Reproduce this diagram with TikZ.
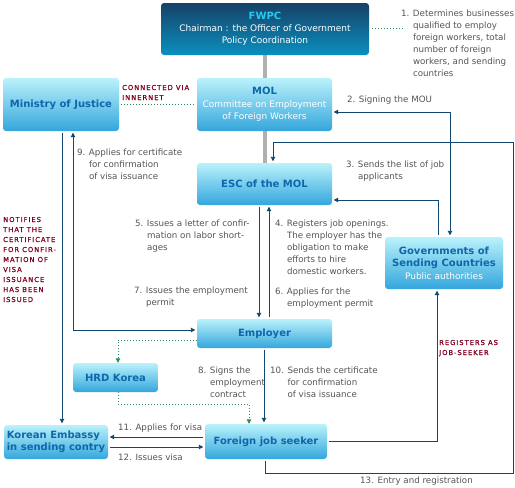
\documentclass[tikz,border=0pt]{standalone}
\usepackage{fontspec}
\setmainfont{DejaVu Sans}
\newfontfamily\redfont[LetterSpace=14,FakeBold=0.6]{DejaVu Sans}
\usetikzlibrary{arrows.meta,backgrounds}
\definecolor{lineblue}{RGB}{16,72,112}
\definecolor{boxtop}{RGB}{186,242,251}
\definecolor{boxbot}{RGB}{52,166,220}
\definecolor{boxtext}{RGB}{14,102,172}
\definecolor{darktop}{RGB}{22,66,102}
\definecolor{darkbot}{RGB}{10,144,192}
\definecolor{fwpccyan}{RGB}{40,200,240}
\definecolor{labgray}{RGB}{85,85,85}
\definecolor{notered}{RGB}{128,0,32}
\definecolor{dotgreen}{RGB}{40,140,90}
\definecolor{bargray}{RGB}{176,176,176}
\newcommand\numlab[2]{\begin{tabular}[t]{@{}l@{\hspace{3.5pt}}l@{}}#1&\begin{tabular}[t]{@{}l@{}}#2\end{tabular}\end{tabular}}
\newcommand\stk[1]{\begin{tabular}[t]{@{}l@{}}#1\end{tabular}}
\tikzset{
  lbox/.style={rounded corners=3pt, top color=boxtop, bottom color=boxbot, inner sep=0pt, align=center, text=boxtext, font=\fontsize{10}{12.5}\selectfont\bfseries},
  dbox/.style={rounded corners=3pt, top color=darktop, bottom color=darkbot, inner sep=0pt, align=center, font=\fontsize{9}{12}\selectfont},
  conn/.style={draw=lineblue, line width=0.9pt, shorten >=1.5pt, shorten <=1.5pt},
  dotline/.style={draw=dotgreen, line width=0.9pt, dash pattern=on 1pt off 2pt},
  lab/.style={anchor=base west, inner sep=0pt, text=labgray, font=\fontsize{8.7}{12}\selectfont},
  redlab/.style={anchor=base west, inner sep=0pt, text=notered, font=\redfont\fontsize{6.8}{10}\selectfont},
}
\begin{document}
\begin{tikzpicture}[x=1pt,y=-1pt,>={Triangle[length=4.5pt,width=4.5pt]}]
\useasboundingbox (0,0) rectangle (515,488);

% boxes
\node[dbox, minimum width=208pt, minimum height=52pt] (fwpc) at (265,29)
  {\textcolor{fwpccyan}{\fontsize{10}{12}\selectfont\bfseries FWPC}\\\textcolor{white}{Chairman : the Officer of Government}\\\textcolor{white}{Policy Coordination}};
\node[lbox, minimum width=135pt, minimum height=53pt] (mol) at (264.5,104.5)
  {MOL\\\textcolor{white}{\mdseries\fontsize{9}{12}\selectfont Committee on Employment}\\\textcolor{white}{\mdseries\fontsize{9}{12}\selectfont of Foreign Workers}};
\node[lbox, minimum width=116pt, minimum height=53pt] (moj) at (61,104.5) {Ministry of Justice};
\node[lbox, minimum width=135pt, minimum height=42pt] (esc) at (264.5,184) {ESC of the MOL};
\node[lbox, minimum width=135pt, minimum height=29pt] (emp) at (264.5,333.5) {Employer};
\node[lbox, minimum width=85pt, minimum height=29pt] (hrd) at (115.5,377.5) {HRD Korea};
\node[lbox, minimum width=104pt, minimum height=34pt, align=left] (emb) at (56,442) {Korean Embassy\\in sending contry};
\node[lbox, minimum width=122pt, minimum height=35pt] (fjs) at (266,441.5) {Foreign job seeker};
\node[lbox, minimum width=118pt, minimum height=52pt] (gov) at (444,263)
  {Governments of\\Sending Countries\\\textcolor{white}{\mdseries\fontsize{9}{12}\selectfont Public authorities}};

\begin{scope}[on background layer]
  \fill[white] (0,0) rectangle (515,488);
  \draw[bargray, line width=3.5pt] (fwpc.south) -- (fwpc.south |- esc.north);
\end{scope}

% coordinates for bends
\coordinate (c2) at (450,112);
\coordinate (c3) at (438,200);
\coordinate (c13a) at (265,473);
\coordinate (c13b) at (513,473);
\coordinate (c13c) at (513,142);
\coordinate (c13d) at (273,142);
\coordinate (c9) at (73,330);
\coordinate (cn) at (62,0);
\coordinate (c57) at (259,0);
\coordinate (c46) at (269,0);
\coordinate (c810) at (264,0);
\coordinate (e11) at (0,437);
\coordinate (e12) at (0,447);
\coordinate (r1) at (437,441);
\coordinate (g0) at (405,28);
\coordinate (g1) at (118,340);
\coordinate (g2) at (118,404);
\coordinate (g3) at (249,404);

% connectors
\draw[conn,<->] (gov.north -| c2) -- (c2) -- (mol.east |- c2);
\draw[conn,->] (gov.north -| c3) -- (c3) -- (esc.east |- c3);
\draw[conn,->] (fjs.south -| c13a) -- (c13a) -- (c13b) -- (c13c) -- (c13d) -- (esc.north -| c13d);
\draw[conn,<->] (moj.south -| c9) -- (c9) -- (emp.west |- c9);
\draw[conn,->] (moj.south -| cn) -- (emb.north -| cn);
\draw[conn,->] (esc.south -| c57) -- (emp.north -| c57);
\draw[conn,->] (emp.north -| c46) -- (esc.south -| c46);
\draw[conn,->] (emp.south -| c810) -- (fjs.north -| c810);
\draw[conn,->] (fjs.west |- e11) -- (emb.east |- e11);
\draw[conn,->] (emb.east |- e12) -- (fjs.west |- e12);
\draw[conn,->] (fjs.east |- r1) -- (r1) -- (gov.south -| r1);

% dotted
\draw[dotline, shorten <=3pt] (fwpc.east |- g0) -- (g0);
\draw[dotline, shorten <=2pt, shorten >=2pt] (moj.east) -- (mol.west);
\draw[dotline,->] (emp.west |- g1) -- (g1) -- (hrd.north -| g1);
\draw[dotline,->] (hrd.south -| g2) -- (g2) -- (g3) -- (fjs.north -| g3);

% labels
\node[lab] (l1) at (401,16) {\numlab{1.}{Determines businesses\\qualified to employ\\foreign workers, total\\number of foreign\\workers, and sending\\countries}};
\node[lab] (l2) at (347,102) {\numlab{2.}{Signing the MOU}};
\node[lab] (l3) at (346,167) {\numlab{3.}{Sends the list of job\\applicants}};
\node[lab] (l4) at (275,226) {\numlab{4.}{Registers job openings.\\The employer has the\\obligation to make\\efforts to hire\\domestic workers.}};
\node[lab] (l6) at (275,294) {\numlab{6.}{Applies for the\\employment permit}};
\node[lab] (l5) at (135,226) {\numlab{5.}{Issues a letter of confir-\\mation on labor short-\\ages}};
\node[lab] (l7) at (134,293) {\numlab{7.}{Issues the employment\\permit}};
\node[lab] (l9) at (77,155) {\numlab{9.}{Applies for certificate\\for confirmation\\of visa issuance}};
\node[lab] (l8) at (198,373) {\numlab{8.}{Signs the\\employment\\contract}};
\node[lab] (l10) at (270,373) {\numlab{10.}{Sends the certificate\\for confirmation\\of visa issuance}};
\node[lab] (l11) at (118,430) {\numlab{11.}{Applies for visa}};
\node[lab] (l12) at (118,460) {\numlab{12.}{Issues visa}};
\node[lab] (l13) at (360,483) {\numlab{13.}{Entry and registration}};

\node[redlab] (rc) at (122,90) {\stk{CONNECTED VIA\\INNERNET}};
\node[redlab] (rn) at (3,222) {\stk{NOTIFIES\\THAT THE\\CERTIFICATE\\FOR CONFIR-\\MATION OF\\VISA\\ISSUANCE\\HAS BEEN\\ISSUED}};
\node[redlab] (rr) at (439,345) {\stk{REGISTERS AS\\JOB-SEEKER}};
\end{tikzpicture}
\end{document}
